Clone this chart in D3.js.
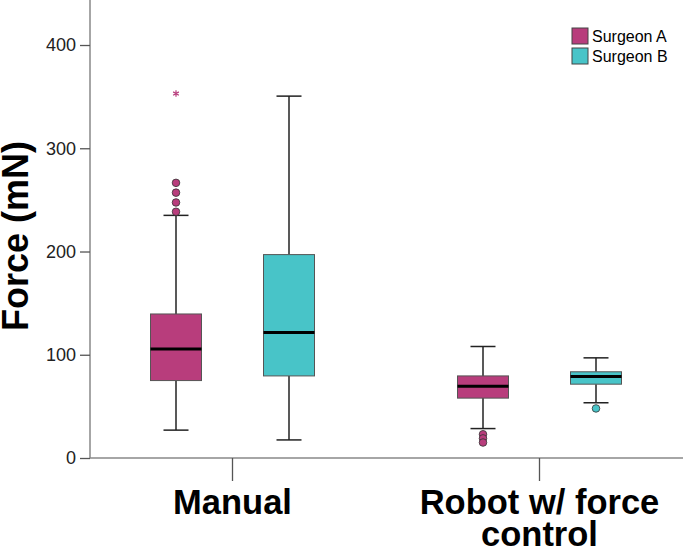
<!DOCTYPE html>
<html>
<head>
<meta charset="utf-8">
<script src="https://cdn.jsdelivr.net/npm/d3@7"></script>
<style>
  html, body { margin: 0; padding: 0; background: #fff; }
  svg { display: block; font-family: "Liberation Sans", Arial, sans-serif; }
</style>
</head>
<body>
<svg id="chart" width="683" height="550"></svg>
<script>
// ---- data ----
const categories = ["Manual", "Robot w/ force control"];
const series = ["Surgeon A", "Surgeon B"];
const colors = ["#b83d7c", "#48c4c8"];
const yTicks = [0, 100, 200, 300, 400];

// box statistics, one value per category
const whiskerLowA = [27, 28.5];
const q1A = [75, 58];
const medianA = [105.5, 69.5];
const q3A = [139.5, 79.5];
const whiskerHighA = [235, 108];
const outliersA = [[238.5, 247.5, 257, 266.5], [23, 19, 15]];
const extremesA = [[353], []];

const whiskerLowB = [17.5, 53.5];
const q1B = [79.5, 71.5];
const medianB = [121.5, 79];
const q3B = [197, 83.5];
const whiskerHighB = [350.5, 97];
const outliersB = [[], [48]];
const extremesB = [[], []];

const stats = [
  {low: whiskerLowA, q1: q1A, med: medianA, q3: q3A, high: whiskerHighA, out: outliersA, ext: extremesA},
  {low: whiskerLowB, q1: q1B, med: medianB, q3: q3B, high: whiskerHighB, out: outliersB, ext: extremesB}
];

// ---- layout ----
const svg = d3.select("#chart");
const axisX0 = 90, axisX1 = 683, axisY = 458;

const y = d3.scaleLinear().domain([0, 443.6]).range([axisY, 0]);
const x = d3.scaleBand().domain(categories).range([79, 693]).padding(0);
const xs = d3.scalePoint().domain(series).range([-56.5, 56.5]);
const boxW = 51, capW = 25;

const boxes = [];
series.forEach((s, si) => {
  categories.forEach((c, ci) => {
    const st = stats[si];
    boxes.push({
      s, c, si, color: colors[si],
      low: st.low[ci], q1: st.q1[ci], med: st.med[ci], q3: st.q3[ci], high: st.high[ci],
      out: st.out[ci], ext: st.ext[ci],
      cx: x(c) + x.bandwidth() / 2 + xs(s)
    });
  });
});

const g = svg.append("g");

// boxes and whiskers
boxes.forEach(b => {
  const gg = g.append("g");
  gg.append("line").attr("x1", b.cx).attr("x2", b.cx)
    .attr("y1", y(b.high)).attr("y2", y(b.q3))
    .attr("stroke", "#222").attr("stroke-width", 1.5);
  gg.append("line").attr("x1", b.cx).attr("x2", b.cx)
    .attr("y1", y(b.q1)).attr("y2", y(b.low))
    .attr("stroke", "#222").attr("stroke-width", 1.5);
  [b.high, b.low].forEach(v => {
    gg.append("line").attr("x1", b.cx - capW / 2).attr("x2", b.cx + capW / 2)
      .attr("y1", y(v)).attr("y2", y(v))
      .attr("stroke", "#222").attr("stroke-width", 1.5);
  });
  gg.append("rect").attr("x", b.cx - boxW / 2).attr("width", boxW)
    .attr("y", y(b.q3)).attr("height", y(b.q1) - y(b.q3))
    .attr("fill", b.color).attr("stroke", "#555").attr("stroke-width", 1);
  gg.append("line").attr("x1", b.cx - boxW / 2).attr("x2", b.cx + boxW / 2)
    .attr("y1", y(b.med)).attr("y2", y(b.med))
    .attr("stroke", "#000").attr("stroke-width", 3);
  gg.selectAll("circle.out").data(b.out).enter().append("circle")
    .attr("class", "out")
    .attr("cx", b.cx).attr("cy", d => y(d)).attr("r", 3.8)
    .attr("fill", b.color).attr("stroke", "#333").attr("stroke-width", 0.8);
  gg.selectAll("path.ext").data(b.ext).enter().append("path")
    .attr("class", "ext")
    .attr("transform", d => `translate(${b.cx},${y(d)})`)
    .attr("d", d3.symbol(d3.symbolAsterisk, 30)())
    .attr("fill", "none").attr("stroke", b.color).attr("stroke-width", 1.2);
});

// y axis
const yAxis = g.append("g").attr("transform", `translate(${axisX0},0)`)
  .call(d3.axisLeft(y).tickValues(yTicks).tickSize(10).tickPadding(4).tickFormat(d3.format("d")));
yAxis.select(".domain").attr("d", `M0,0V${axisY}`).attr("stroke", "#888").attr("stroke-width", 1.5);
yAxis.selectAll(".tick line").attr("stroke", "#555").attr("stroke-width", 1.3);
yAxis.selectAll(".tick text").attr("font-size", 18).attr("fill", "#222")
  .attr("font-family", "Liberation Sans, Arial, sans-serif");

// x axis
const xAxis = g.append("g").attr("transform", `translate(0,${axisY})`)
  .call(d3.axisBottom(x).tickSize(23).tickPadding(10));
xAxis.select(".domain").attr("d", `M${axisX0},0H${axisX1}`).attr("stroke", "#888").attr("stroke-width", 1.5);
xAxis.selectAll(".tick line").attr("stroke", "#555").attr("stroke-width", 1.3);
xAxis.selectAll(".tick text")
  .attr("font-size", 34.5).attr("font-weight", "bold").attr("fill", "#000")
  .attr("font-family", "Liberation Sans, Arial, sans-serif")
  .attr("dy", null).attr("y", 56)
  .each(function(d) {
    const t = d3.select(this);
    const words = d.split(" ");
    t.text(null);
    let line = [];
    let tspan = t.append("tspan").attr("x", 0).attr("dy", 0);
    words.forEach(w => {
      line.push(w);
      tspan.text(line.join(" "));
      if (tspan.node().getComputedTextLength() > 260 && line.length > 1) {
        line.pop();
        tspan.text(line.join(" "));
        line = [w];
        tspan = t.append("tspan").attr("x", 0).attr("dy", 32).text(w);
      }
    });
  });

// y title
svg.append("text")
  .attr("transform", "translate(28,236) rotate(-90)")
  .attr("text-anchor", "middle")
  .attr("font-size", 36).attr("font-weight", "bold").attr("fill", "#000")
  .text("Force (mN)");

// legend
const leg = svg.append("g").attr("transform", "translate(572,28)");
series.forEach((s, i) => {
  const r = leg.append("g").attr("transform", `translate(0,${i * 20})`);
  r.append("rect").attr("width", 16).attr("height", 16)
    .attr("fill", colors[i]).attr("stroke", "#444").attr("stroke-width", 1);
  r.append("text").attr("x", 20).attr("y", 14)
    .attr("font-size", 16).attr("fill", "#000").text(s);
});
</script>
</body>
</html>
